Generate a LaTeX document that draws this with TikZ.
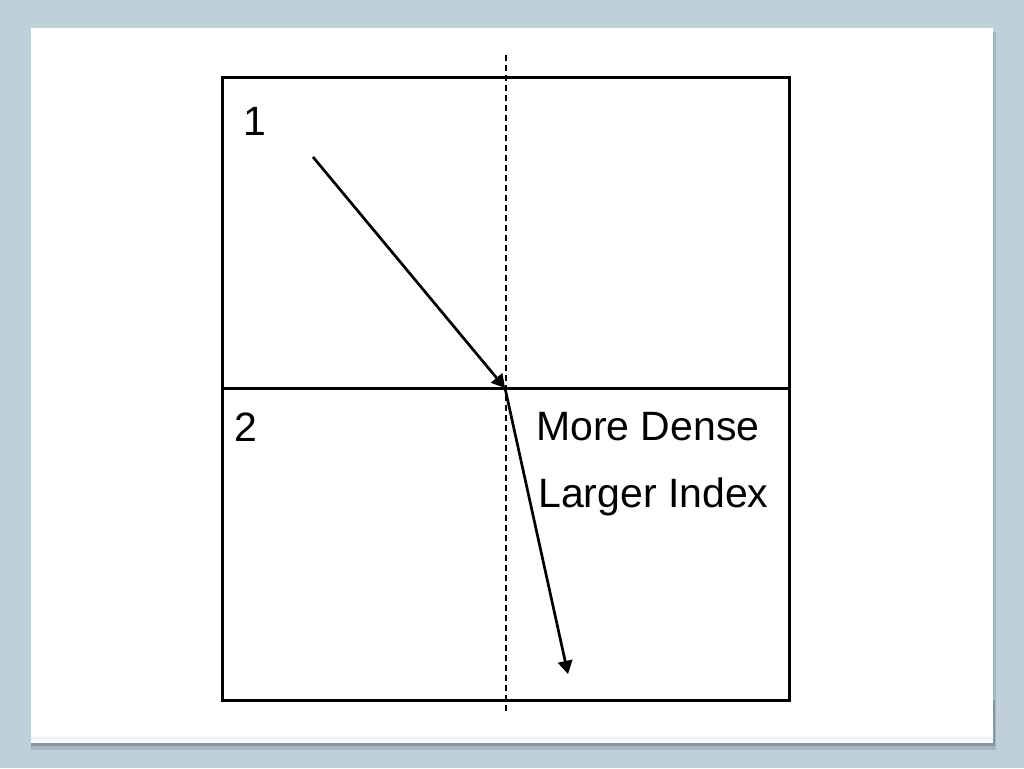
\documentclass[tikz,border=0pt]{standalone}
\usepackage{fontspec}
\setmainfont{Liberation Sans}
\usepackage{tikz}
\usetikzlibrary{arrows}
\definecolor{slide}{RGB}{190,208,218}
\definecolor{shade}{RGB}{112,124,132}

\begin{document}
\begin{tikzpicture}[x=1pt,y=-1pt,
        lbl/.style={font=\fontsize{41}{48}\selectfont,inner sep=0pt,anchor=base west},
        ray/.style={line width=2.7pt,-triangle 60}]
        \useasboundingbox (0,0) rectangle (1024,768);
        \fill [slide] (0,0) rectangle (1024,768);
        % card with its shadow
        \fill [shade!30!slide] (31,32) rectangle (996,750);
        \fill [shade!70!slide] (31,700) rectangle (995,746);
        \fill [shade] (31,700) rectangle (993,742);
        \fill [white] (31,28) rectangle (993,737);
        \draw [line width=3pt] (222,77) rectangle (789,700);
        \draw [line width=3pt] (222,388) -- (789,388);
        \draw [line width=2.4pt,dash pattern=on 6pt off 4pt] (506,55) -- (506,712);
        \node [lbl] (one) at (243,135) {1};
        \node [lbl] (two) at (234,441) {2};
        \node [lbl] (dense) at (536,440) {More Dense};
        \node [lbl] (index) at (538,507) {Larger Index};
        \coordinate (src) at (313,157);
        \coordinate (hit) at (505,388);
        \coordinate (end) at (568,674);
        \draw [ray] (src) -- (hit);
        \draw [ray] (hit) -- (end);
\end{tikzpicture}
\end{document}
